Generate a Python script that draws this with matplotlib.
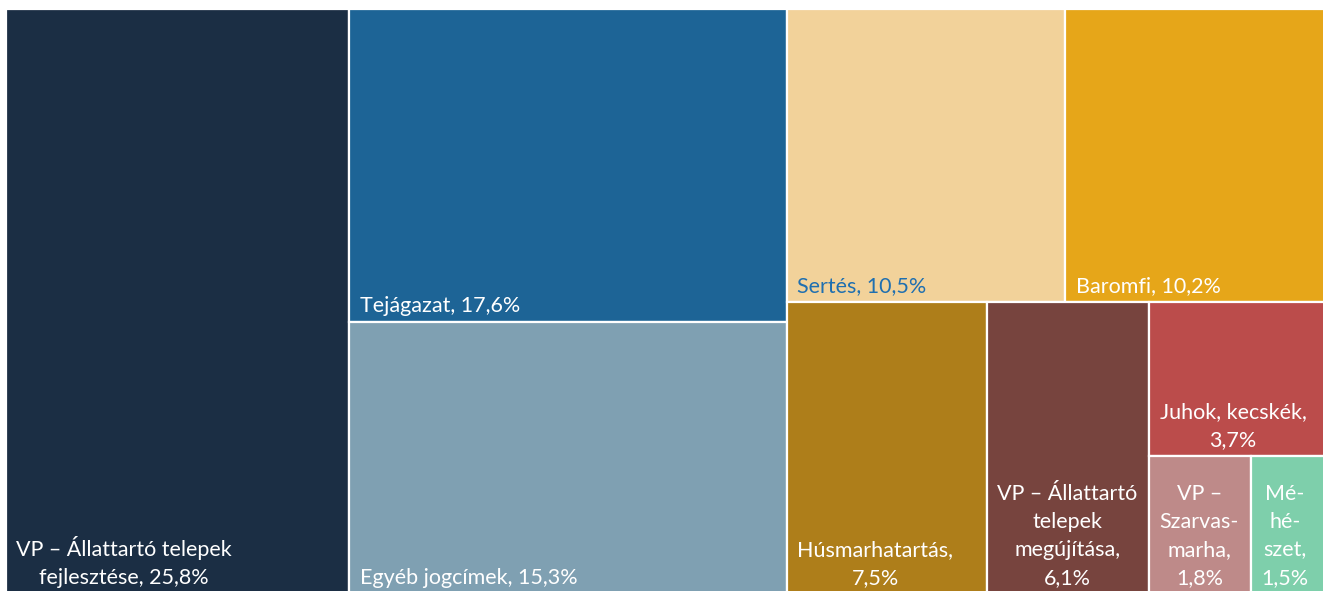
import matplotlib
matplotlib.use("Agg")
import matplotlib.pyplot as plt
from matplotlib.patches import Rectangle

plt.rcParams['font.family'] = ['Lato', 'DejaVu Sans']

# Adatok (százalék)
labels = [
    "VP – Állattartó telepek\nfejlesztése, 25,8%",
    "Tejágazat, 17,6%",
    "Egyéb jogcímek, 15,3%",
    "Sertés, 10,5%",
    "Baromfi, 10,2%",
    "Húsmarhatartás,\n7,5%",
    "VP – Állattartó\ntelepek\nmegújítása,\n6,1%",
    "Juhok, kecskék,\n3,7%",
    "VP –\nSzarvas-\nmarha,\n1,8%",
    "Mé-\nhé-\nszet,\n1,5%",
]
values = [25.8, 17.6, 15.3, 10.5, 10.2, 7.5, 6.1, 3.7, 1.8, 1.5]
colors = ["#1B2E44", "#1D6496", "#7FA0B2", "#F2D29A", "#E6A619",
          "#AE7E1A", "#77443E", "#BB4C4B", "#BE8A89", "#7ECFAB"]
text_colors = ["white", "white", "white", "#1F6FB0", "white",
               "white", "white", "white", "white", "white"]

# a diagram kicsit túlnyúlik a képen (jobbra és lent le van vágva)
W, H = 1330.0, 585.0


def worst(row, side):
    s = sum(row)
    return max(side * side * max(row) / (s * s), s * s / (side * side * min(row)))


def squarify(vals, x, y, w, h):
    rects = []
    while vals:
        side = min(w, h)
        row = [vals[0]]
        i = 1
        while i < len(vals) and worst(row + [vals[i]], side) <= worst(row, side):
            row.append(vals[i])
            i += 1
        s = sum(row)
        if w >= h:
            cw = s / h
            yy = y
            for v in row:
                rects.append((x, yy, cw, v / cw))
                yy += v / cw
            x += cw
            w -= cw
        else:
            rh = s / w
            xx = x
            for v in row:
                rects.append((xx, y, v / rh, rh))
                xx += v / rh
            y += rh
            h -= rh
        vals = vals[i:]
    return rects


total = sum(values)
areas = [v / total * W * H for v in values]
rects = squarify(areas, 0, 0, W, H)

fig = plt.figure(figsize=(13.23, 5.91), dpi=100)
ax = fig.add_axes([6 / 1323, (591 - 9 - H) / 591, W / 1323, H / 591])
ax.set_xlim(0, W)
ax.set_ylim(H, 0)
ax.axis('off')

for (x, y, w, h), lab, c, tc in zip(rects, labels, colors, text_colors):
    ax.add_patch(Rectangle((x, y), w, h, facecolor=c, edgecolor='white',
                           linewidth=1.6, clip_on=False))
    ax.annotate(lab, (x, y + h), xytext=(7.5, 4.5), textcoords='offset points',
                ha='left', va='bottom', multialignment='center',
                color=tc, fontsize=15.5, linespacing=1.5)

fig.savefig("out.png", dpi=100)
